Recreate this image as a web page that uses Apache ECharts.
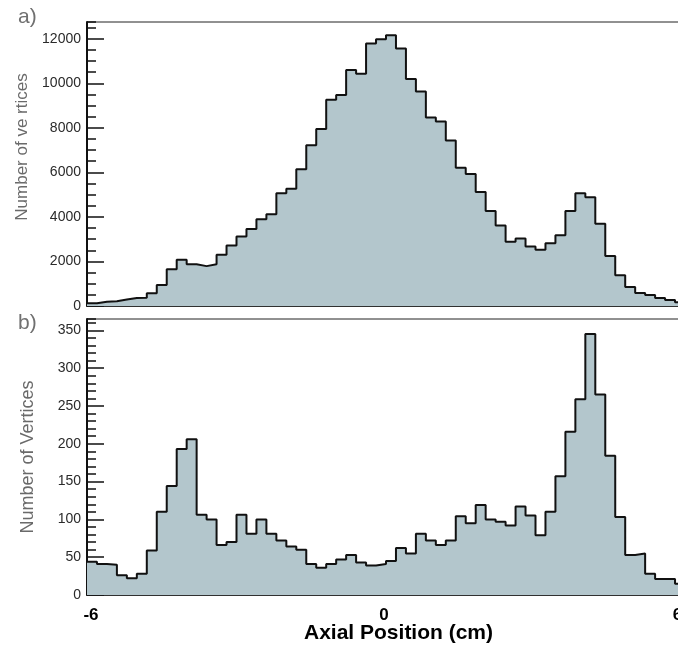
<!DOCTYPE html>
<html>
<head>
<meta charset="utf-8">
<script src="https://cdn.jsdelivr.net/npm/echarts@6/dist/echarts.min.js"></script>
<style>
  html, body { margin: 0; padding: 0; background: #fff; }
  #chart { width: 678px; height: 650px; }
</style>
</head>
<body>
<div id="chart"></div>
<script>
// Histogram binning: 60 bins of 0.2 cm between -6 and 6 cm
const xMin = -6;
const xMax = 6;
const binWidth = 0.2;

// a) all reconstructed vertices per bin
const countsA = [
  120, 190, 210, 290, 360, 370, 570, 940, 1650, 2080,
  1870, 1790, 1870, 2300, 2720, 3115, 3460, 3895, 4120, 5060,
  5260, 6140, 7220, 7950, 9260, 9470, 10600, 10430, 11790, 11980,
  12150, 11560, 10190, 9630, 8460, 8280, 7430, 6210, 5930, 5120,
  4270, 3610, 2890, 3030, 2670, 2520, 2820, 3180, 4270, 5060,
  4880, 3690, 2250, 1380, 850, 580, 490, 360, 270, 170
];

// b) selected vertices per bin
const countsB = [
  44, 41, 40, 26, 22, 28, 59, 110, 144, 193,
  206, 106, 100, 66, 70, 106, 81, 100, 81, 72,
  64, 60, 41, 36, 41, 47, 53, 43, 39, 41,
  45, 62, 55, 81, 72, 66, 72, 104, 95, 119,
  100, 97, 92, 117, 105, 79, 110, 157, 216, 259,
  345, 265, 184, 103, 53, 55, 28, 21, 21, 15
];

// axis tick labels shown on the shared x axis
const xTickLabels = [-6, 0, 6];

const yTitleA = 'Number of ve rtices';
const yTitleB = 'Number of Vertices';
const xTitle = 'Axial Position (cm)';

// step outline: one point at each bin's lower edge, plus the closing edge
function stepData(counts) {
  const pts = counts.map((v, i) => [+(xMin + i * binWidth).toFixed(2), v]);
  pts.push([xMax, counts[counts.length - 1]]);
  return pts;
}

const FILL = '#b3c6cc';
const INK = '#111';
const FONT = '"Liberation Sans", Arial, Helvetica, sans-serif';

function xAxisFor(gridIndex, showLabels) {
  return {
    type: 'value', gridIndex, min: xMin, max: xMax, interval: 2,
    axisLine: { show: true, onZero: false, lineStyle: { color: INK, width: 1.5 } },
    axisTick: { show: true, inside: true, length: 9, lineStyle: { color: INK, width: 1.5 } },
    minorTick: { show: true, splitNumber: 4, length: 4, lineStyle: { color: INK, width: 1.2 } },
    splitLine: { show: false },
    minorSplitLine: { show: false },
    axisLabel: {
      show: showLabels, margin: 12, fontFamily: FONT, fontWeight: 'bold', fontSize: 17, color: '#000',
      formatter: function (v) {
        if (xTickLabels.indexOf(v) < 0) return '';
        if (v === -6) return '{l|-6}';
        if (v === 0) return '{c|0}';
        return '{r|6}';
      },
      rich: {
        l: { fontFamily: FONT, fontWeight: 'bold', fontSize: 17, color: '#000', padding: [0, 0, 0, 8] },
        c: { fontFamily: FONT, fontWeight: 'bold', fontSize: 17, color: '#000', padding: [0, 4, 0, 0] },
        r: { fontFamily: FONT, fontWeight: 'bold', fontSize: 17, color: '#000', padding: [0, 15, 0, 0] }
      }
    }
  };
}

function majorY(gridIndex, max, interval, name, nameSize, namePad) {
  return {
    type: 'value', gridIndex, position: 'left', min: 0, max, interval,
    name, nameLocation: 'middle', nameRotate: 90, nameGap: 50,
    nameTextStyle: { fontFamily: FONT, fontSize: nameSize, color: '#6a6a6a', padding: namePad },
    axisLine: { show: true, onZero: false, lineStyle: { color: INK, width: 2 } },
    axisTick: { show: true, inside: true, length: 17, lineStyle: { color: INK, width: 1.5 } },
    splitLine: { show: false },
    axisLabel: {
      show: true, margin: 6, showMaxLabel: false, fontFamily: FONT, fontSize: 14, color: '#2a2a2a',
      formatter: function (v) { return String(v); }
    }
  };
}

function minorY(gridIndex, max, interval) {
  return {
    type: 'value', gridIndex, position: 'left', offset: 0, min: 0, max, interval,
    axisLine: { show: false, onZero: false },
    axisTick: { show: true, inside: true, length: 9, lineStyle: { color: INK, width: 1.5 } },
    splitLine: { show: false },
    axisLabel: { show: false }
  };
}

const chart = echarts.init(document.getElementById('chart'), null, { renderer: 'canvas' });

const gridBase = {
  left: 87, right: -7, show: true, borderColor: '#222', borderWidth: 1,
  backgroundColor: 'transparent', containLabel: false, outerBoundsMode: 'none'
};

chart.setOption({
  animation: false,
  backgroundColor: '#fff',
  title: [
    { text: 'a)', left: 18, top: 7, padding: 0,
      textStyle: { fontFamily: FONT, fontWeight: 'normal', fontSize: 21, color: '#707070' } },
    { text: 'b)', left: 18, top: 313, padding: 0,
      textStyle: { fontFamily: FONT, fontWeight: 'normal', fontSize: 21, color: '#707070' } },
    { text: xTitle, left: 304, top: 623, padding: 0,
      textStyle: { fontFamily: FONT, fontWeight: 'bold', fontSize: 21, color: '#000' } }
  ],
  grid: [
    Object.assign({}, gridBase, { top: 22, bottom: 344 }),
    Object.assign({}, gridBase, { top: 319, bottom: 55 })
  ],
  xAxis: [xAxisFor(0, false), xAxisFor(1, true)],
  yAxis: [
    majorY(0, 12750, 2000, yTitleA, 17, [0, 0, 0, 34]),
    minorY(0, 12750, 500),
    majorY(1, 365, 50, yTitleB, 18, [0, 0, 0, 0]),
    minorY(1, 365, 10)
  ],
  series: [
    {
      type: 'line', xAxisIndex: 0, yAxisIndex: 0, step: 'end',
      data: stepData(countsA), showSymbol: false, silent: true,
      lineStyle: { color: INK, width: 2 },
      areaStyle: { color: FILL, opacity: 1 }
    },
    {
      type: 'line', xAxisIndex: 1, yAxisIndex: 2, step: 'end',
      data: stepData(countsB), showSymbol: false, silent: true,
      lineStyle: { color: INK, width: 2 },
      areaStyle: { color: FILL, opacity: 1 }
    }
  ]
});
</script>
</body>
</html>
